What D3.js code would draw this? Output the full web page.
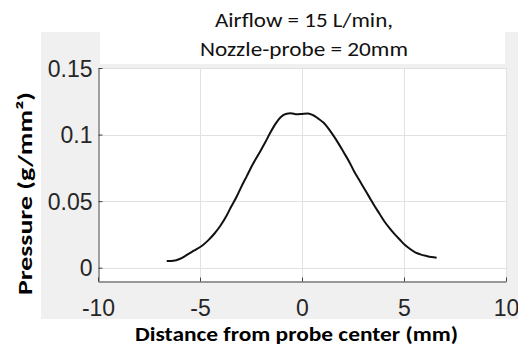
<!DOCTYPE html>
<html><head><meta charset="utf-8">
<script src="https://cdn.jsdelivr.net/npm/d3@7"></script>
<style>html,body{margin:0;padding:0;background:#fff;}svg{display:block;}</style>
</head><body>
<svg id="c" width="518" height="347"></svg>
<script>
const distance = [-6.63,-6.3,-6.0,-5.6,-5.3,-4.9,-4.6,-4.3,-4.0,-3.7,-3.5,-3.2,-3.0,-2.7,-2.4,-2.1,-1.8,-1.55,-1.3,-1.05,-0.8,-0.55,-0.25,0.0,0.3,0.55,0.8,1.05,1.3,1.55,1.8,2.05,2.3,2.55,2.8,3.05,3.3,3.55,3.8,4.05,4.3,4.55,4.8,5.05,5.3,5.55,5.8,6.1,6.35,6.6];
const pressure = [0.0050,0.0052,0.0065,0.0100,0.0128,0.0165,0.0205,0.0255,0.0315,0.0390,0.0450,0.0535,0.0600,0.0690,0.0780,0.0860,0.0942,0.1015,0.1080,0.1130,0.1155,0.1160,0.1152,0.1155,0.1158,0.1145,0.1120,0.1090,0.1045,0.0990,0.0930,0.0865,0.0800,0.0725,0.0660,0.0595,0.0530,0.0465,0.0405,0.0345,0.0295,0.0250,0.0210,0.0170,0.0140,0.0115,0.0100,0.0088,0.0080,0.0075];
const xTicks = [-10,-5,0,5,10];
const yTicks = [0,0.05,0.1,0.15];
const xTickLabels = ["-10","-5","0","5","10"];
const yTickLabels = ["0","0.05","0.1","0.15"];
const titleLines = ["Airflow = 15 L/min,","Nozzle-probe  = 20mm"];
const xLabel = "Distance from probe center (mm)";
const yLabel = "Pressure (g/mm\u00B2)";

const svg = d3.select("#c");
const L=98, R=506, T=68, B=281;
const x = d3.scaleLinear().domain([-10,10]).range([L,R]);
const y = d3.scaleLinear().domain([-0.01,0.15]).range([B,T]);

// figure background
svg.append("rect").attr("x",41).attr("y",32).attr("width",477).attr("height",287).attr("fill","#f0f0f0");
svg.append("rect").attr("x",100).attr("y",0).attr("width",405).attr("height",64).attr("fill","#fff");
svg.append("rect").attr("x",L).attr("y",T).attr("width",R-L).attr("height",B-T).attr("fill","#fff");

// grid
const g = svg.append("g");
g.selectAll("line.vx").data(xTicks.slice(1)).join("line")
  .attr("x1",d=>x(d)+0.5).attr("x2",d=>x(d)+0.5).attr("y1",T).attr("y2",B)
  .attr("stroke","#e1e1e1").attr("stroke-width",1);
g.selectAll("line.hy").data(yTicks).join("line")
  .attr("x1",L).attr("x2",R).attr("y1",d=>Math.round(y(d))+0.5).attr("y2",d=>Math.round(y(d))+0.5)
  .attr("stroke","#e1e1e1").attr("stroke-width",1);

// axes
const xa = d3.axisBottom(x).tickValues(xTicks).tickFormat((d,i)=>xTickLabels[i]).tickSizeInner(-4).tickSizeOuter(0).tickPadding(23);
const ya = d3.axisLeft(y).tickValues(yTicks).tickFormat((d,i)=>yTickLabels[i]).tickSizeInner(-4).tickSizeOuter(0).tickPadding(6);
const gx = svg.append("g").attr("transform",`translate(0,${B+0.5})`).call(xa);
const gy = svg.append("g").attr("transform",`translate(${L+0.5},0)`).call(ya);
[gx,gy].forEach(a=>{
  a.select(".domain").attr("stroke","#404040");
  a.selectAll(".tick line").attr("stroke","#404040");
  a.selectAll(".tick text").attr("fill","#262626").attr("font-family","'Liberation Sans',Arial,sans-serif").attr("font-size",23);
});
gx.selectAll(".tick text").attr("dy","0.5em");
gy.selectAll(".tick text").attr("dy","0.36em");

// curve
const line = d3.line().x((d,i)=>x(distance[i])).y(d=>y(d)).curve(d3.curveMonotoneX);
svg.append("path").datum(pressure).attr("d",line).attr("fill","none").attr("stroke","#111").attr("stroke-width",2);

// title
svg.selectAll("text.title").data(titleLines).join("text").attr("class","title")
  .attr("x",304).attr("y",(d,i)=>27+i*28.5).attr("text-anchor","middle")
  .attr("font-family","Carlito,Calibri,Lato,sans-serif").attr("font-size",20).attr("fill","#111")
  .attr("textLength",(d,i)=>[178,208][i]).attr("lengthAdjust","spacingAndGlyphs")
  .text(d=>d);

// axis labels
svg.append("text").attr("x",296.5).attr("y",341).attr("text-anchor","middle")
  .attr("font-family","Carlito,Calibri,Lato,sans-serif").attr("font-weight","bold").attr("font-size",20).attr("fill","#000")
  .attr("textLength",323).attr("lengthAdjust","spacingAndGlyphs").text(xLabel);
svg.append("text").attr("transform","translate(31.5,193.5) rotate(-90)").attr("text-anchor","middle")
  .attr("font-family","Carlito,Calibri,Lato,sans-serif").attr("font-weight","bold").attr("font-size",20).attr("fill","#000")
  .attr("textLength",203).attr("lengthAdjust","spacingAndGlyphs").text(yLabel);
</script>
</body></html>
